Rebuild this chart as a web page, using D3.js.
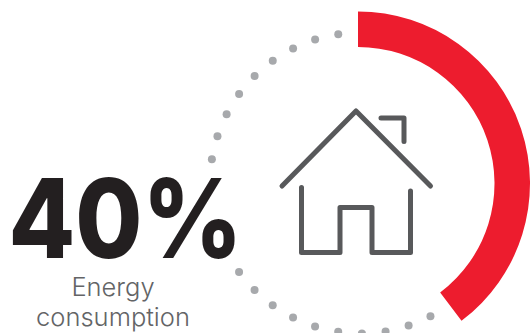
<!DOCTYPE html>
<html><head><meta charset="utf-8">
<script src="https://cdn.jsdelivr.net/npm/d3@7"></script>
<style>html,body{margin:0;padding:0;background:#fff;overflow:hidden}svg{display:block}</style>
</head><body><div id="c"></div>
<script>
const values = [40, 60];
const valueLabel = "40%";
const captionLines = ["Energy", "consumption"];
// dot slots on the remaining track; slots 10-13 sit behind the big number and are not drawn
const dotSlots = [0,1,2,3,4,5,6,7,8,9,14,15,16,17,18,19,20,21,22];
const roofIcon = [[0,75],[74,0],[148.5,75]];
const chimneyIcon = [[99,7],[122,7],[122,30.5]];
const bodyIcon = [[19.5,76.5],[19.5,141.5],[58,141.5],[58,96.5],[90,96.5],[90,141.5],[128.5,141.5],[128.5,80]];

const W = 530, H = 333, cx = 358, cy = 183.5;
const svg = d3.select("#c").append("svg").attr("width", W).attr("height", H);
const g = svg.append("g").attr("transform", `translate(${cx},${cy})`);

const pie = d3.pie().sort(null).endAngle(357.5 * Math.PI / 180)(values);
const arc = d3.arc().innerRadius(136.5).outerRadius(172);
g.append("path").attr("d", arc(pie[0])).attr("fill", "#ed1c2e");

const dotAngle = d3.scaleLinear().domain([0, 22]).range([152.3, 351.5]);
const dotR = 150.5;
const dots = svg.append("g").attr("transform", "translate(360.5,183)");
dots.selectAll("circle").data(dotSlots).join("circle")
  .attr("cx", d => dotR * Math.sin(dotAngle(d) * Math.PI / 180))
  .attr("cy", d => -dotR * Math.cos(dotAngle(d) * Math.PI / 180))
  .attr("r", 4).attr("fill", "#a7a9ac");

const ix = d3.scaleLinear().domain([0, 148.5]).range([282, 430.5]);
const iy = d3.scaleLinear().domain([0, 75]).range([111, 186]);
const line = d3.line().x(d => ix(d[0])).y(d => iy(d[1]));
[roofIcon, chimneyIcon, bodyIcon].forEach(p => {
  svg.append("path").attr("d", line(p)).attr("fill", "none")
    .attr("stroke", "#58595b").attr("stroke-width", 5)
    .attr("stroke-linecap", "round").attr("stroke-linejoin", "round");
});

svg.append("text").attr("x", 8.5).attr("y", 258)
  .attr("textLength", 234).attr("lengthAdjust", "spacingAndGlyphs")
  .attr("font-family", "Inter").attr("font-weight", 800).attr("font-size", 110)
  .attr("fill", "#231f20").text(valueLabel);

svg.selectAll("text.cap").data(captionLines).join("text").attr("class", "cap")
  .attr("x", 113).attr("y", (d, i) => 296 + i * 30).attr("text-anchor", "middle")
  .attr("font-family", "Inter").attr("font-weight", 300).attr("font-size", 25.5)
  .attr("fill", "#636466").text(d => d);
</script></body></html>
